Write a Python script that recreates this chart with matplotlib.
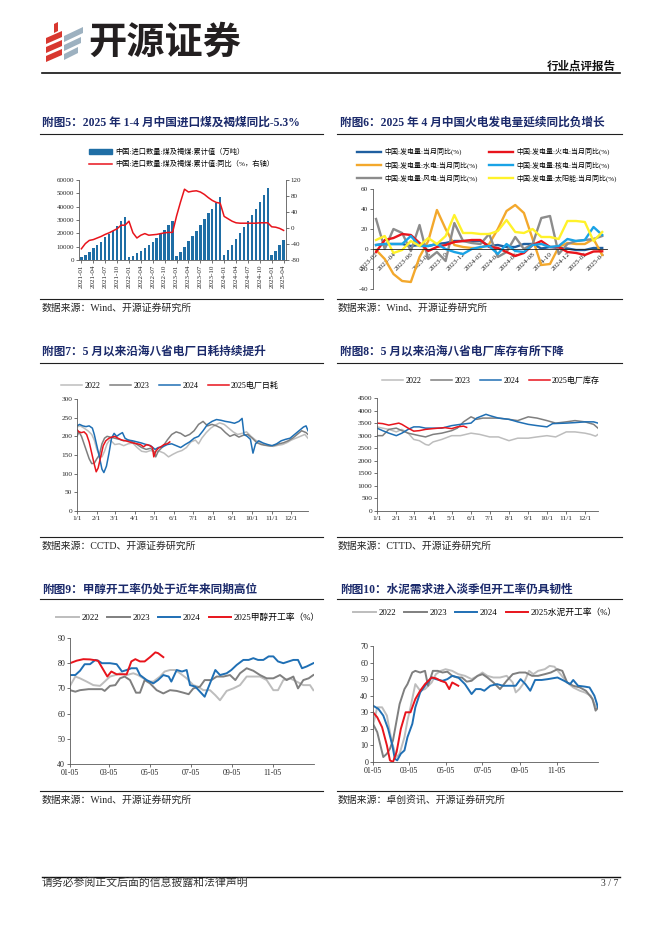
import matplotlib
matplotlib.use('Agg')
import matplotlib.pyplot as plt
from matplotlib.lines import Line2D
from matplotlib.patches import Patch, Polygon
import numpy as np
import pandas as pd

plt.rcParams['font.family'] = ['Liberation Serif', 'Noto Sans CJK SC']
plt.rcParams['axes.unicode_minus'] = False

# ---------------- data ----------------
# chart 5: coal & lignite imports, cumulative (10k t) and cumulative yoy (%)
import_months = [d.strftime('%Y-%m') for d in pd.date_range('2021-01-01', periods=52, freq='MS')]
import_cum = [2000, 4000, 6000, 9000, 11000, 13500, 17000, 19500, 22000, 25500, 29000, 32300,
              2000, 3000, 5000, 7000, 9000, 11000, 13500, 16500, 19500, 22500, 26000, 29300,
              3000, 6000, 10000, 14000, 18000, 22000, 26000, 30500, 35000, 38500, 43000, 47400,
              4000, 7500, 11500, 16000, 20500, 25000, 29500, 34000, 38500, 43500, 49000, 54300,
              4000, 7000, 11500, 15000]
import_yoy = [-52, -39, -31, -29, -25, -21, -16, -12, -7, -2, 7, 7,
              17, -12, -25, -18, -14, -18, -17, -16, -14, -12, -11, -11,
              30, 65, 97, 90, 92, 93, 90, 84, 76, 69, 64, 62,
              29, 23, 17, 13, 12, 12, 12, 12, 12, 13, 13, 13,
              3, 2, -1, -6]

# chart 6: power generation yoy by source (%), 2023-02 .. 2025-04
gen_months = [d.strftime('%Y-%m') for d in pd.date_range('2023-02-01', periods=27, freq='MS')]
gen_total = [4, 5, 5, 5, 3, 4, 3, 5, 6, 8, 8, 8, 8, 3, 4, 2, 2, 5, 5, 0.5, 2, 1, 0.5, -1, -1, 1, 1]
gen_thermal = [-3, 9, 11, 15, 14, 6, -2, 2, 4, 7, 8, 9, 9, 2, 1, -3, -7, -4, 4, 8, 2, 2, -3, -4, -6, -2.5, -2.3]
gen_hydro = [-1, -10, -25, -32, -33, -8, 8, 39, 20, 4, 2, 1, 1, 5, 20, 38, 44, 36, 10, -16, -15, 2, 6, 5, 5, 10, -6]
gen_nuclear = [4, 5, 5, 5, 13, 3, 3, 5, 0, -3, -5, 0, 2, 3, -5, 5, -2, -3, 4, 5, 2, 3, 10, 8, 9, 22, 14]
gen_wind = [30, 0, 20, 16, -2, 24, -10, -3, -12, 26, 8, 6, 5, 15, -8, -3, 12, 0, 5, 31, 33, -5, 5, 8, 9, 10, 13]
gen_solar = [9, 13, -4, -1, 8, 3, 11, 5, 13, 34, 16, 16, 15, 15, 18, 29, 17, 16, 20, 12, 12, 10, 28, 28, 27, 8, 17]

# chart 7: coastal 8 provinces power plant daily coal burn (10k t)
burn_2022_d = ['1/1', '1/6', '1/12', '1/18', '1/24', '1/28', '2/1', '2/5', '2/9', '2/13', '2/17', '2/21', '2/25',
               '3/1', '3/8', '3/15', '3/22', '3/29', '4/5', '4/12', '4/19', '4/26', '5/3', '5/10', '5/17',
               '5/24', '5/31', '6/7', '6/14', '6/21', '6/28', '7/5', '7/10', '7/15', '7/22', '7/29', '8/5',
               '8/12', '8/19', '8/26', '9/2', '9/9', '9/16', '9/23', '9/30', '10/7', '10/14', '10/21',
               '10/28', '11/4', '11/11', '11/18', '11/25', '12/2', '12/9', '12/16', '12/23', '12/28']
burn_2022 = [225, 228, 222, 215, 205, 190, 165, 150, 145, 160, 180, 190, 185,
             178, 180, 175, 180, 182, 170, 160, 158, 162, 158, 160, 155,
             145, 152, 158, 162, 170, 185, 190, 180, 195, 210, 222, 230,
             236, 232, 222, 212, 205, 208, 212, 200, 190, 183, 176,
             175, 173, 176, 178, 183, 190, 195, 200, 205, 195]
burn_2023_d = ['1/1', '1/4', '1/8', '1/12', '1/16', '1/20', '1/24', '1/28', '2/1', '2/5', '2/9', '2/13', '2/17',
               '2/22', '3/1', '3/8', '3/15', '3/22', '3/29', '4/5', '4/12', '4/19', '4/26', '5/1', '5/4',
               '5/8', '5/15', '5/22', '5/29', '6/5', '6/12', '6/19', '6/26', '7/3', '7/10', '7/17', '7/24',
               '7/31', '8/7', '8/14', '8/21', '8/28', '9/4', '9/11', '9/18', '9/25', '10/2', '10/9',
               '10/16', '10/23', '10/30', '11/6', '11/13', '11/20', '11/27', '12/4', '12/11', '12/18',
               '12/25', '12/28']
burn_2023 = [200, 212, 200, 180, 160, 140, 127, 128, 140, 150, 180, 195, 200,
             198, 195, 192, 188, 190, 185, 178, 170, 165, 168, 160, 145,
             160, 172, 190, 205, 212, 208, 200, 205, 215, 232, 240, 228,
             232, 228, 222, 210, 200, 205, 198, 203, 205, 195, 183,
             178, 176, 174, 176, 180, 183, 188, 195, 205, 215,
             210, 205]
burn_2024_d = ['1/1', '1/5', '1/10', '1/15', '1/20', '1/25', '1/28', '2/1', '2/5', '2/9', '2/12', '2/16', '2/20',
               '2/24', '2/28', '3/4', '3/8', '3/13', '3/17', '3/22', '3/29', '4/5', '4/12', '4/19', '4/26',
               '5/3', '5/8', '5/15', '5/22', '5/29', '6/5', '6/12', '6/19', '6/26', '7/3', '7/10', '7/17',
               '7/24', '7/31', '8/7', '8/14', '8/21', '8/28', '9/4', '9/11', '9/16', '9/19', '9/24',
               '9/29', '10/3', '10/7', '10/12', '10/19', '10/26', '11/2', '11/9', '11/16', '11/23',
               '11/30', '12/7', '12/14', '12/21', '12/25', '12/28']
burn_2024 = [228, 232, 228, 226, 228, 222, 205, 175, 145, 112, 103, 120, 155,
             195, 208, 200, 205, 210, 195, 190, 188, 185, 182, 178, 175,
             165, 170, 172, 178, 180, 175, 170, 178, 185, 195, 200, 215,
             232, 240, 245, 243, 240, 238, 235, 240, 248, 205, 200,
             192, 155, 180, 188, 182, 178, 175, 180, 188, 192,
             195, 205, 215, 225, 228, 215]
burn_2025_d = ['1/1', '1/4', '1/8', '1/12', '1/16', '1/20', '1/24', '1/28', '1/31', '2/3', '2/7', '2/11',
               '2/15', '2/20', '2/25', '3/1', '3/6', '3/12', '3/18', '3/24', '3/30', '4/5', '4/10',
               '4/15', '4/20', '4/25', '4/29', '5/1', '5/4', '5/8', '5/12', '5/17', '5/22', '5/26']
burn_2025 = [218, 212, 210, 212, 205, 185, 155, 125, 105, 115, 145, 175,
             188, 195, 198, 200, 195, 190, 188, 185, 182, 180, 178,
             172, 178, 175, 170, 145, 160, 168, 172, 178, 180, 185]

# chart 8: coastal 8 provinces power plant coal stock (10k t)
stock_2022_d = ['1/1', '1/10', '1/20', '2/1', '2/10', '2/20', '3/1', '3/10', '3/20', '3/25', '4/1', '4/15',
                '5/1', '5/15', '6/1', '6/15', '7/1', '7/15', '8/1', '8/15', '9/1', '9/15', '10/1',
                '10/15', '11/1', '11/15', '12/1', '12/10', '12/18', '12/22']
stock_2022 = [3350, 3300, 3250, 3150, 3250, 3100, 2850, 2800, 2650, 2620, 2750, 2850,
              3000, 3000, 3100, 3050, 2950, 2950, 2800, 2900, 2900, 2950, 3000,
              2950, 3150, 3150, 3100, 3050, 2980, 3050]
stock_2023_d = ['1/1', '1/10', '1/20', '2/1', '2/10', '2/20', '3/1', '3/10', '3/20', '4/1', '4/15', '5/1',
                '5/10', '5/20', '6/1', '6/10', '6/20', '7/1', '7/15', '8/1', '8/15', '9/1', '9/15',
                '10/1', '10/15', '11/1', '11/15', '12/1', '12/15', '12/22']
stock_2023 = [3000, 3000, 3250, 3300, 3200, 3100, 3050, 3000, 2950, 3050, 3100, 3200,
              3300, 3550, 3750, 3650, 3700, 3700, 3700, 3650, 3600, 3750, 3700,
              3600, 3500, 3550, 3600, 3550, 3450, 3300]
stock_2024_d = ['1/1', '1/10', '1/20', '2/1', '2/10', '2/20', '3/1', '3/10', '3/20', '4/1', '4/15', '5/1',
                '5/15', '6/1', '6/10', '6/20', '6/25', '7/1', '7/15', '8/1', '8/15', '9/1', '9/15',
                '10/1', '10/10', '11/1', '11/15', '12/1', '12/15', '12/22']
stock_2024 = [3300, 3200, 3100, 3000, 3100, 3250, 3350, 3350, 3300, 3300, 3300, 3400,
              3450, 3500, 3700, 3800, 3850, 3800, 3700, 3650, 3550, 3450, 3400,
              3350, 3480, 3500, 3520, 3550, 3550, 3500]
stock_2025_d = ['1/1', '1/10', '1/20', '2/1', '2/5', '2/10', '2/20', '3/1', '3/10', '3/20', '4/1', '4/10',
                '4/20', '5/1', '5/10', '5/20', '5/25']
stock_2025 = [3500, 3480, 3420, 3480, 3500, 3450, 3300, 3180, 3200, 3250, 3280, 3300,
              3320, 3280, 3350, 3380, 3330]

# chart 9: methanol operating rate (%), x = days after 01-05
meth_2022_day = [0, 8, 15, 25, 35, 45, 52, 60, 68, 75, 85, 95, 102, 110, 118, 125, 135, 142, 150, 158, 165,
                 175, 185, 192, 200, 210, 218, 225, 235, 245, 255, 265, 275, 285, 295, 305, 312, 320,
                 330, 340, 350, 360, 365]
meth_2022 = [71, 74.7, 74, 72.7, 71.3, 71, 72.7, 74.7, 75.3, 76, 75.3, 76, 75.3, 74, 72.7, 72.7, 74.7, 76.7,
             77.3, 77.3, 76, 74, 71.3, 70.7, 69.3, 69.3, 67.3, 65.3, 69, 70, 71.3, 74.7, 74.7, 74.7, 73.3,
             69.3, 69.3, 73.3, 74, 72.7, 71.3, 71.3, 69.3]
meth_2023_day = [0, 8, 15, 28, 38, 48, 52, 60, 68, 75, 82, 90, 99, 105, 112, 120, 130, 140, 150, 160, 170,
                 178, 185, 195, 202, 212, 220, 230, 240, 248, 255, 265, 275, 285, 295, 305, 315, 325,
                 335, 342, 350, 358, 365]
meth_2023 = [69.3, 68.7, 69.3, 69.7, 69.7, 69.7, 69, 71, 71.3, 74, 74.7, 73.3, 68.3, 68.3, 73.3, 72, 69.3,
             68, 69.3, 69, 68.3, 67.7, 70, 70.7, 73.3, 73.3, 74.7, 74.7, 75.3, 73.3, 76, 78, 77, 75.3, 74,
             74, 75.3, 73.3, 74.7, 70, 73.3, 74, 75.3]
meth_2024_day = [0, 8, 15, 22, 30, 38, 42, 48, 60, 70, 78, 85, 92, 100, 105, 115, 125, 132, 140, 148, 152,
                 160, 168, 175, 180, 188, 195, 202, 210, 218, 225, 235, 242, 250, 260, 268, 275, 282,
                 290, 298, 305, 312, 320, 328, 335, 342, 348, 355, 365]
meth_2024 = [75.3, 75.3, 77, 79.6, 79.6, 81.3, 81, 80, 80, 79.6, 76.7, 77.3, 78, 78, 75.3, 73.3, 72, 73.3,
             75.3, 74.7, 72.7, 77.3, 76.7, 77.3, 71.3, 70.7, 68.7, 66.7, 72, 77.3, 75.3, 76, 77.3, 79.3,
             81.3, 81.3, 82, 81.3, 81.3, 82.7, 82.7, 80.7, 80, 80.7, 81.3, 81.3, 78, 78.7, 80]
meth_2025_day = [0, 10, 20, 30, 42, 56, 62, 70, 85, 92, 98, 105, 112, 120, 128, 132, 140]
meth_2025 = [80, 81, 81.6, 81.5, 81, 74.7, 76.7, 75.6, 75.6, 80.7, 81.6, 80.7, 80.7, 82.4, 84.3, 84, 82.4]

# chart 10: cement operating rate (%), x = days after 01-05
cem_2022_day = [0, 7, 15, 23, 31, 39, 44, 52, 57, 62, 70, 78, 86, 97, 104, 112, 120, 131, 141, 152, 163,
                173, 181, 189, 199, 210, 221, 231, 236, 242, 250, 258, 265, 273, 284, 292, 300, 310,
                321, 331, 342, 350, 360, 366, 372]
cem_2022 = [22, 33, 33, 28, 12, 3, 5, 15, 25, 33, 47, 43, 44, 48, 53, 55, 56, 55, 53, 52, 50,
            52, 54, 52, 51, 51, 52, 48, 42, 44, 48, 55, 53, 55, 56, 58, 57.5, 53,
            48, 45, 43, 42, 40, 35, 32]
cem_2023_day = [0, 7, 17, 23, 28, 33, 39, 44, 52, 57, 65, 70, 78, 86, 91, 99, 107, 115, 123, 131, 139,
                147, 155, 163, 173, 181, 189, 199, 210, 221, 231, 242, 252, 263, 273, 284, 294, 305,
                313, 321, 331, 342, 352, 363, 368, 372]
cem_2023 = [23, 18, 3, 5, 8, 13, 25, 35, 44, 47, 54, 55, 54, 55, 46, 55, 55, 54, 54.5, 52, 51,
            51, 48.5, 49, 52, 53, 51, 48, 44, 49, 53, 54, 54, 52, 52, 53, 54, 56,
            55, 48, 46, 45, 43, 38, 31, 33]
cem_2024_day = [0, 9, 17, 25, 32, 36, 40, 46, 52, 57, 65, 70, 78, 86, 97, 104, 115, 123, 131, 141, 152,
                163, 170, 178, 184, 194, 205, 215, 226, 236, 244, 252, 260, 268, 279, 289, 305, 316,
                326, 331, 339, 350, 358, 366, 372]
cem_2024 = [34, 32, 28, 20, 10, 2, 1, 5, 7, 15, 23, 33, 42, 46, 51, 50, 49, 50, 52, 51, 47,
            41, 44, 44, 43, 46, 47, 46, 46, 46, 50, 47, 43, 49.5, 49.5, 50, 51, 49,
            47, 49.5, 46, 45.5, 45, 40, 33]
cem_2025_day = [0, 7, 15, 23, 28, 33, 39, 46, 54, 62, 70, 78, 86, 97, 104, 112, 120, 126, 131, 136, 141]
cem_2025 = [30, 27, 21, 10, 1, 0, 6, 20, 30, 30, 38, 43, 47, 51, 50.5, 49, 48, 44, 48, 47, 46]

# ---------------- style ----------------
W, H = 662, 936
NAVY = '#1B2A6B'
RED = '#E8141C'
BLUE24 = '#1F6FB4'
GRAY22 = '#BDBDBD'
GRAY23 = '#7F7F7F'
AXC = '#595959'
TXT = '#262626'


def rect(x0, y0, x1, y1):
    return [x0 / W, 1 - y1 / H, (x1 - x0) / W, (y1 - y0) / H]


def hline(fig, x0, x1, y, lw=0.8, color='#202020'):
    fig.add_artist(Line2D([x0 / W, x1 / W], [1 - y / H, 1 - y / H], color=color, lw=lw))


def style_axes(ax, size):
    for s in ['top', 'right']:
        ax.spines[s].set_visible(False)
    for s in ['left', 'bottom']:
        ax.spines[s].set_color(AXC)
        ax.spines[s].set_linewidth(0.6)
    ax.tick_params(direction='out', length=2, width=0.6, color=AXC, labelsize=size,
                   labelcolor=TXT, pad=1.5)


def md(lst):
    return pd.to_datetime(['2001/' + s for s in lst], format='%Y/%m/%d')


fig = plt.figure(figsize=(W / 100, H / 100), dpi=100)

# ---------------- header / footer ----------------
red_bars = [[(46, 38), (62, 31), (62, 37), (46, 44)],
            [(46, 47), (62, 40), (62, 46), (46, 53)],
            [(46, 56), (62, 49), (62, 55), (46, 62)],
            [(54, 24), (58, 22), (58, 31), (54, 33)]]
grey_bars = [[(64, 36), (83, 27), (83, 33), (64, 42)],
             [(64, 45), (81, 37), (81, 43), (64, 51)],
             [(64, 54), (78, 47), (78, 53), (64, 60)]]
for pts in red_bars:
    fig.add_artist(Polygon([(x / W, 1 - y / H) for x, y in pts], closed=True,
                           transform=fig.transFigure, color='#D8372F', lw=0))
for pts in grey_bars:
    fig.add_artist(Polygon([(x / W, 1 - y / H) for x, y in pts], closed=True,
                           transform=fig.transFigure, color='#9DB1C0', lw=0))
fig.text(88 / W, 1 - 42 / H, '开源证券', fontsize=27.5, fontweight='bold', color='#231F20',
         va='center', ha='left', family=['Noto Sans CJK SC'])
fig.text(616 / W, 1 - 67 / H, '行业点评报告', fontsize=8.3, fontweight='bold', color='#111111',
         va='center', ha='right')
hline(fig, 42, 620, 73, lw=1.2, color='#111111')
hline(fig, 42, 620, 877, lw=1.0, color='#111111')
fig.text(42 / W, 1 - 883 / H, '请务必参阅正文后面的信息披露和法律声明', fontsize=7.8,
         color='#333333', va='center')
fig.text(618 / W, 1 - 883 / H, '3 / 7', fontsize=7, color='#333333', va='center', ha='right')

# titles, rules and sources
titles = [(42, 123, '附图5：2025 年 1-4 月中国进口煤及褐煤同比-5.3%'),
          (340, 123, '附图6：2025 年 4 月中国火电发电量延续同比负增长'),
          (42, 352, '附图7：5 月以来沿海八省电厂日耗持续提升'),
          (340, 352, '附图8：5 月以来沿海八省电厂库存有所下降'),
          (42, 590, '附图9：甲醇开工率仍处于近年来同期高位'),
          (340, 590, '附图10：水泥需求进入淡季但开工率仍具韧性')]
for x, y, s in titles:
    fig.text(x / W, 1 - y / H, s, fontsize=8.4, fontweight='bold', color=NAVY, va='center')
for y in [134, 363, 599]:
    hline(fig, 40, 323, y)
    hline(fig, 337, 622, y)
sources = [(308, '数据来源：Wind、开源证券研究所', '数据来源：Wind、开源证券研究所'),
           (546, '数据来源：CCTD、开源证券研究所', '数据来源：CTTD、开源证券研究所'),
           (800, '数据来源：Wind、开源证券研究所', '数据来源：卓创资讯、开源证券研究所')]
for y, a, b in sources:
    hline(fig, 40, 323, y - 9)
    hline(fig, 337, 622, y - 9)
    fig.text(42 / W, 1 - y / H, a, fontsize=7.1, color=TXT, va='center')
    fig.text(338 / W, 1 - y / H, b, fontsize=7.1, color=TXT, va='center')

# ---------------- chart 5 ----------------
ax5 = fig.add_axes(rect(79, 180, 286, 260))
x5 = np.arange(len(import_cum))
ax5.bar(x5, import_cum, width=0.62, color='#1F6EA5')
style_axes(ax5, 5)
ax5.set_xlim(-0.6, len(x5) - 0.4)
ax5.set_ylim(0, 60000)
ax5.set_yticks(range(0, 60001, 10000))
ax5.set_xticks(x5[::3])
ax5.set_xticklabels(import_months[::3], rotation=90)
ax5r = ax5.twinx()
ax5r.plot(x5, import_yoy, color=RED, lw=1.1)
ax5r.set_ylim(-80, 120)
ax5r.set_yticks(range(-80, 121, 40))
for s in ['top', 'left', 'bottom']:
    ax5r.spines[s].set_visible(False)
ax5r.spines['right'].set_color(AXC)
ax5r.spines['right'].set_linewidth(0.6)
ax5r.tick_params(direction='out', length=2, width=0.6, color=AXC, labelsize=5, labelcolor=TXT, pad=1.5)
ax5.legend([Patch(color='#1F6EA5'), Line2D([], [], color=RED, lw=1.1)],
           ['中国:进口数量:煤及褐煤:累计值（万吨）', '中国:进口数量:煤及褐煤:累计值:同比（%，右轴）'],
           loc='upper left', bbox_to_anchor=(89 / W, 1 - 148 / H), bbox_transform=fig.transFigure,
           frameon=False, fontsize=5.2, handlelength=3.2, handleheight=0.6, handletextpad=0.5,
           labelspacing=0.6, borderpad=0, borderaxespad=0)

# ---------------- chart 6 ----------------
ax6 = fig.add_axes(rect(373, 189, 607, 289))
x6 = np.arange(len(gen_months))
series6 = [('中国:发电量:当月同比(%)', gen_total, '#1F5FA0'),
           ('中国:发电量:水电:当月同比(%)', gen_hydro, '#F3A82C'),
           ('中国:发电量:风电:当月同比(%)', gen_wind, '#8C8C8C'),
           ('中国:发电量:火电:当月同比(%)', gen_thermal, '#E8141C'),
           ('中国:发电量:核电:当月同比(%)', gen_nuclear, '#1AA3E6'),
           ('中国:发电量:太阳能:当月同比(%)', gen_solar, '#FFF22A')]
handles6 = []
for name, vals, col in series6:
    h, = ax6.plot(x6, vals, color=col, lw=1.7, label=name)
    handles6.append(h)
style_axes(ax6, 5.2)
ax6.spines['bottom'].set_position(('data', 0))
ax6.spines['bottom'].set_color('#202020')
ax6.set_ylim(-40, 60)
ax6.set_yticks(range(-40, 61, 20))
ax6.set_xlim(-0.35, len(x6) - 0.45)
ax6.set_xticks(x6[::2])
ax6.set_xticklabels(gen_months[::2], rotation=45, ha='right', va='top', rotation_mode='anchor')
ax6.tick_params(axis='x', length=0)
leg_kw = dict(bbox_transform=fig.transFigure, frameon=False, fontsize=5, handlelength=3.4,
              handletextpad=0.5, labelspacing=0.85, borderpad=0, borderaxespad=0, loc='upper left')
leg6a = ax6.legend(handles6[:3], [s[0] for s in series6[:3]],
                   bbox_to_anchor=(357 / W, 1 - 148 / H), **leg_kw)
ax6.add_artist(leg6a)
ax6.legend(handles6[3:], [s[0] for s in series6[3:]],
           bbox_to_anchor=(489 / W, 1 - 148 / H), **leg_kw)

# ---------------- charts 7, 8 ----------------
month_ticks = pd.date_range('2001-01-01', periods=12, freq='MS')
month_labels = ['%d/1' % m for m in range(1, 13)]


def year_chart(box, series, ylim, ystep, xend, legend_xy, last_label):
    ax = fig.add_axes(rect(*box))
    cols = [GRAY22, GRAY23, BLUE24, RED]
    labels = ['2022', '2023', '2024', last_label]
    hs = []
    for (d, v), c in zip(series, cols):
        h, = ax.plot(md(d), v, color=c, lw=1.1)
        hs.append(h)
    style_axes(ax, 5.3)
    ax.set_ylim(*ylim)
    ax.set_yticks(range(ylim[0], ylim[1] + 1, ystep))
    ax.set_xlim(pd.Timestamp('2001-01-01'), pd.Timestamp(xend))
    ax.set_xticks(month_ticks)
    ax.set_xticklabels(month_labels)
    ax.legend(hs, labels, loc='center', bbox_to_anchor=(legend_xy[0] / W, 1 - legend_xy[1] / H),
              bbox_transform=fig.transFigure, ncol=4, frameon=False, fontsize=5.8,
              handlelength=2.6, handletextpad=0.3, columnspacing=1.2, borderpad=0, borderaxespad=0)
    return ax


year_chart((77, 399, 308, 511),
           [(burn_2022_d, burn_2022), (burn_2023_d, burn_2023), (burn_2024_d, burn_2024),
            (burn_2025_d, burn_2025)], (0, 300), 50, '2001-12-28', (170, 386), '2025电厂日耗')
year_chart((377, 398, 598, 511),
           [(stock_2022_d, stock_2022), (stock_2023_d, stock_2023), (stock_2024_d, stock_2024),
            (stock_2025_d, stock_2025)], (0, 4500), 500, '2001-12-22', (491, 381), '2025电厂库存')

# ---------------- charts 9, 10 ----------------
rate_ticks = ['01-05', '03-05', '05-05', '07-05', '09-05', '11-05']
rate_tick_pos = [(pd.Timestamp('2001-' + t) - pd.Timestamp('2001-01-05')).days for t in rate_ticks]


def rate_chart(box, series, ylim, xend, legend_xy, last_label, lw):
    ax = fig.add_axes(rect(*box))
    cols = [GRAY22, GRAY23, BLUE24, RED]
    labels = ['2022', '2023', '2024', last_label]
    hs = []
    for (d, v), c in zip(series, cols):
        h, = ax.plot(d, v, color=c, lw=lw)
        hs.append(h)
    style_axes(ax, 5.8)
    ax.set_ylim(*ylim)
    ax.set_yticks(range(ylim[0], ylim[1] + 1, 10))
    ax.set_xlim(0, xend)
    ax.set_xticks(rate_tick_pos)
    ax.set_xticklabels(rate_ticks)
    ax.legend(hs, labels, loc='center', bbox_to_anchor=(legend_xy[0] / W, 1 - legend_xy[1] / H),
              bbox_transform=fig.transFigure, ncol=4, frameon=False, fontsize=6.3,
              handlelength=2.6, handletextpad=0.3, columnspacing=0.9, borderpad=0, borderaxespad=0)
    return ax


rate_chart((70, 638, 314, 764),
           [(meth_2022_day, meth_2022), (meth_2023_day, meth_2023), (meth_2024_day, meth_2024),
            (meth_2025_day, meth_2025)], (40, 90), 366, (188, 618), '2025甲醇开工率（%）', 1.4)
rate_chart((373, 646, 598, 762),
           [(cem_2022_day, cem_2022), (cem_2023_day, cem_2023), (cem_2024_day, cem_2024),
            (cem_2025_day, cem_2025)], (0, 70), 372, (485, 613), '2025水泥开工率（%）', 1.4)

fig.savefig('out.png', dpi=100)
